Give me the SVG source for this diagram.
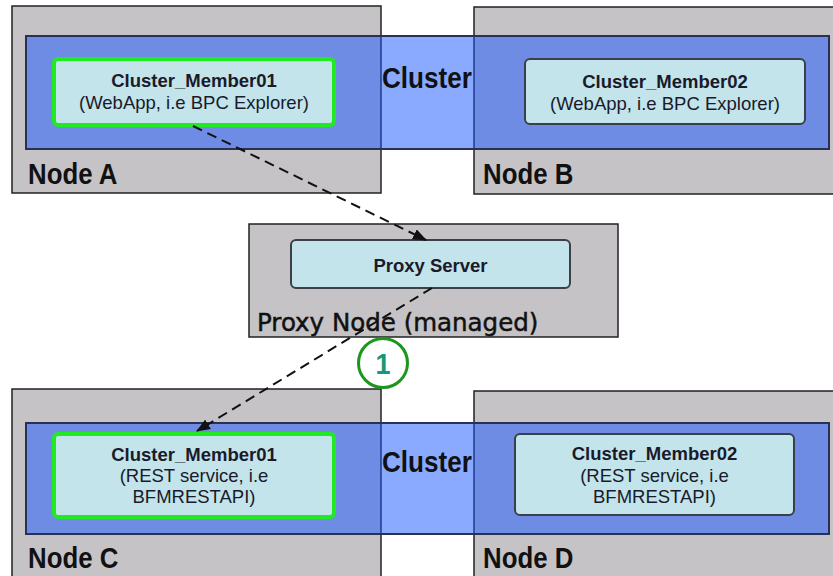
<svg xmlns="http://www.w3.org/2000/svg" width="833" height="576" viewBox="0 0 833 576">
<style>
.node{fill:#c6c3c6;stroke:#222;stroke-width:1.5}
.cluster{fill:rgb(21,85,255);fill-opacity:0.5;stroke:#2a2f55;stroke-width:2}
.mem{fill:#c2e4ea;stroke:#3a3f48;stroke-width:2}
.memg{fill:#c2e4ea;stroke:#22ea22;stroke-width:4}
.big{font-family:"Liberation Sans",Arial,sans-serif;font-weight:bold;font-size:29px;fill:#111}
.t1{font-family:"Liberation Sans",Arial,sans-serif;font-weight:bold;font-size:18.5px;fill:#1a1a2a;text-anchor:middle}
.t2{font-family:"Liberation Sans",Arial,sans-serif;font-size:18.5px;fill:#1a1a2a;text-anchor:middle}
.conn{fill:none;stroke:#111;stroke-width:2;stroke-dasharray:10 6}
</style>
<defs>
<marker id="ah" viewBox="0 0 14 11" refX="13" refY="5.5" markerWidth="14" markerHeight="11" markerUnits="userSpaceOnUse" orient="auto">
<path d="M0,0 L14,5.5 L0,11 Z" fill="#111"/>
</marker>
</defs>
<rect x="0" y="0" width="833" height="576" fill="#fff"/>

<g id="nodeA"><rect class="node" x="12" y="6" width="369" height="187"/>
<text class="big" transform="translate(28,184) scale(0.89,1)">Node A</text></g>
<g id="nodeB"><rect class="node" x="474" y="7" width="370" height="187"/>
<text class="big" transform="translate(483,184) scale(0.89,1)">Node B</text></g>
<g id="clusterTop"><rect class="cluster" x="26" y="36" width="803" height="113"/>
<text class="big" transform="translate(382,88) scale(0.9,1)">Cluster</text></g>
<g id="memberTop1"><rect class="memg" x="54" y="59" width="280" height="66" rx="4"/>
<text class="t1" x="194" y="87">Cluster_Member01</text>
<text class="t2" x="194" y="109">(WebApp, i.e BPC Explorer)</text></g>
<g id="memberTop2"><rect class="mem" x="525" y="59" width="280" height="65" rx="5"/>
<text class="t1" x="665" y="88">Cluster_Member02</text>
<text class="t2" x="665" y="110">(WebApp, i.e BPC Explorer)</text></g>

<g id="proxyNode"><rect class="node" x="249" y="224" width="369" height="113"/>
<text x="257" y="331" style="font-family:'DejaVu Sans',Verdana,sans-serif;font-size:24.5px;fill:#111;stroke:#111;stroke-width:0.5">Proxy Node (managed)</text></g>
<g id="proxyServer"><rect class="mem" x="291" y="240" width="279" height="48" rx="5"/>
<text class="t1" x="430.5" y="272">Proxy Server</text></g>

<g id="nodeC"><rect class="node" x="12" y="389" width="369" height="200"/>
<text class="big" transform="translate(28,568) scale(0.89,1)">Node C</text></g>
<g id="nodeD"><rect class="node" x="474" y="391" width="370" height="200"/>
<text class="big" transform="translate(483,568) scale(0.89,1)">Node D</text></g>
<g id="clusterBottom"><rect class="cluster" x="26" y="423" width="803" height="111"/>
<text class="big" transform="translate(382,472) scale(0.9,1)">Cluster</text></g>
<g id="memberBottom1"><rect class="memg" x="54" y="434" width="280" height="83" rx="4"/>
<text class="t1" x="194" y="461">Cluster_Member01</text>
<text class="t2" x="194" y="482">(REST service, i.e</text>
<text class="t2" x="194" y="503">BFMRESTAPI)</text></g>
<g id="memberBottom2"><rect class="mem" x="515" y="434" width="279" height="81" rx="5"/>
<text class="t1" x="654.5" y="460">Cluster_Member02</text>
<text class="t2" x="654.5" y="482">(REST service, i.e</text>
<text class="t2" x="654.5" y="503">BFMRESTAPI)</text></g>

<g id="step1"><circle cx="383" cy="363" r="24.5" fill="#fff" stroke="#1c961c" stroke-width="3"/>
<text text-anchor="middle" transform="translate(383,374) scale(0.9,1)" style="font-family:'Liberation Sans',Arial,sans-serif;font-weight:bold;font-size:30px;fill:#18977a">1</text></g>

<g id="connectors">
<line class="conn" x1="193" y1="126" x2="426" y2="240" marker-end="url(#ah)"/>
<line class="conn" x1="432" y1="288" x2="197" y2="431" marker-end="url(#ah)"/>
</g>
</svg>
